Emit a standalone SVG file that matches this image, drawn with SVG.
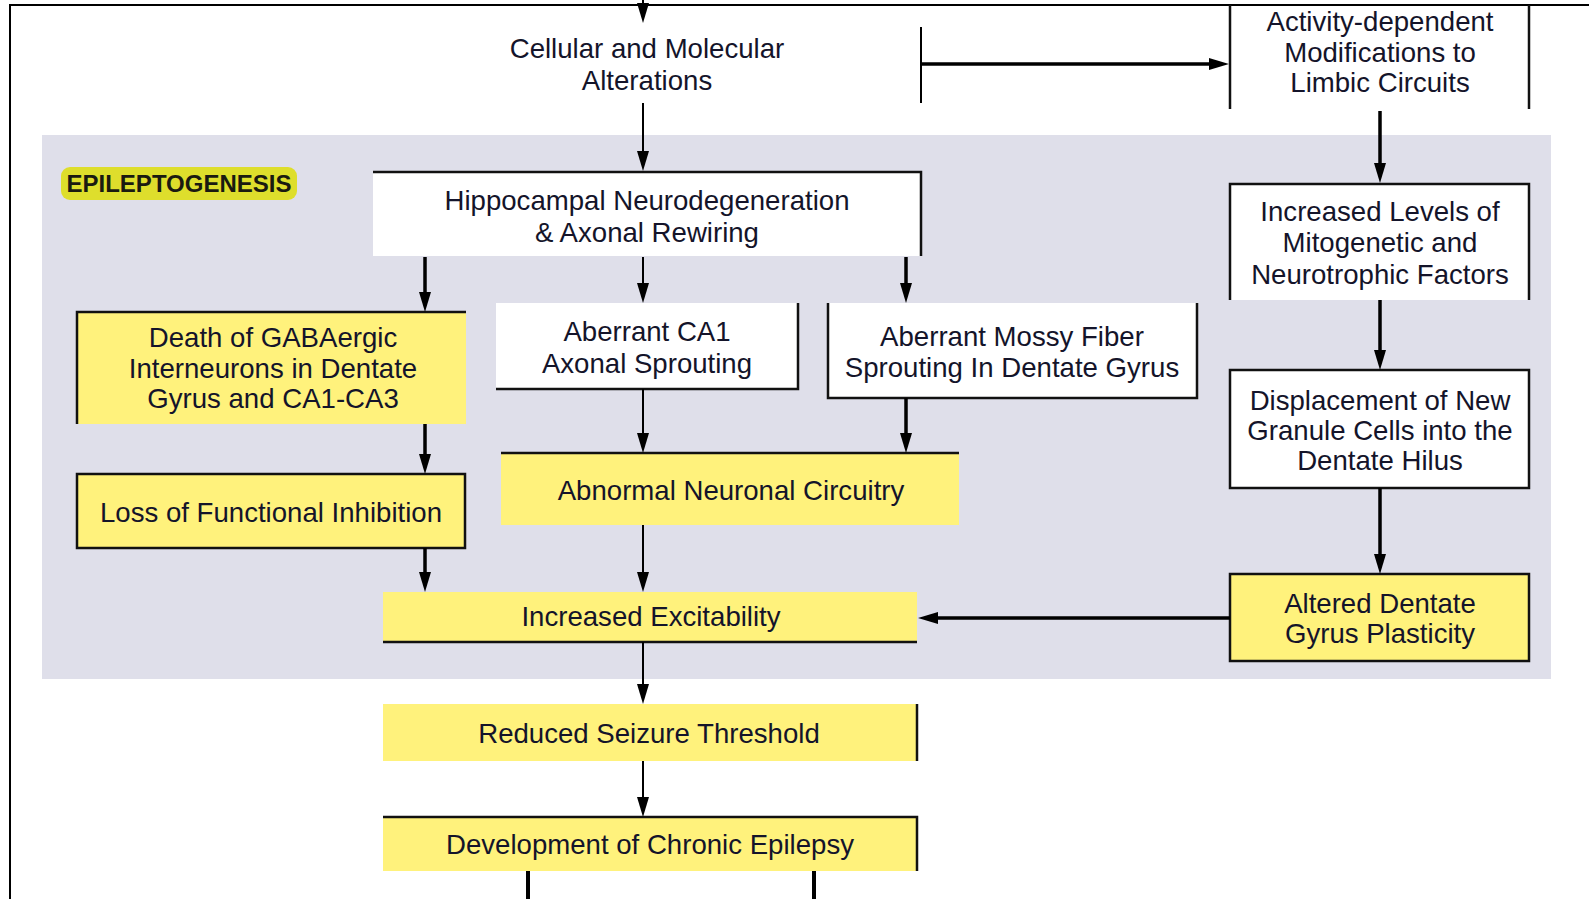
<svg xmlns="http://www.w3.org/2000/svg" width="1589" height="899" viewBox="0 0 1589 899">
<style>
.t{font-family:"Liberation Sans",Arial,sans-serif;font-size:27.6px;fill:#14142a;text-anchor:middle}
.lbl{font-family:"Liberation Sans",Arial,sans-serif;font-size:24px;font-weight:bold;fill:#1a1a10;text-anchor:middle}
.y{fill:#fff27c}
.w{fill:#ffffff}
.b{fill:none;stroke:#111;stroke-width:2.5}
.thin{fill:none;stroke:#000;stroke-width:2;marker-end:url(#ah)}
.thick{fill:none;stroke:#000;stroke-width:3.5;marker-end:url(#ah)}
.ln{fill:none;stroke:#000}
</style>
<defs>
<marker id="ah" markerUnits="userSpaceOnUse" viewBox="0 0 20 14" refX="10" refY="7" markerWidth="20" markerHeight="14" orient="auto">
<path d="M0,1 L20,7 L0,13 z" fill="#000"/>
</marker>
</defs>
<rect x="0" y="0" width="1589" height="899" fill="#fff"/>
<g id="frame">
<path class="ln" d="M9,5 H1589 M10,5 V899" stroke-width="2"/>
</g>
<rect id="epileptogenesis-region" x="42" y="135" width="1509" height="544" fill="#dfdfea"/>
<g id="epileptogenesis-label">
<rect x="61" y="167" width="236" height="33" rx="9" fill="#dede2c"/>
<text class="lbl" x="179" y="192">EPILEPTOGENESIS</text>
</g>
<g id="cellular">
<text class="t" x="647" y="58">Cellular and Molecular</text>
<text class="t" x="647" y="90">Alterations</text>
</g>
<g id="activity">
<path class="b" d="M1230,5 V109 M1529,5 V109"/>
<text class="t" x="1380" y="31">Activity-dependent</text>
<text class="t" x="1380" y="62">Modifications to</text>
<text class="t" x="1380" y="92">Limbic Circuits</text>
</g>
<g id="hippocampal">
<rect class="w" x="373" y="172" width="548" height="84"/>
<path class="b" d="M373,172 H921 V256"/>
<text class="t" x="647" y="210">Hippocampal Neurodegeneration</text>
<text class="t" x="647" y="242">&amp; Axonal Rewiring</text>
</g>
<g id="levels">
<rect class="w" x="1230" y="184" width="299" height="116"/>
<path class="b" d="M1230,300 V184 H1529 V300"/>
<text class="t" x="1380" y="221">Increased Levels of</text>
<text class="t" x="1380" y="252">Mitogenetic and</text>
<text class="t" x="1380" y="284">Neurotrophic Factors</text>
</g>
<g id="death">
<rect class="y" x="77" y="312" width="389" height="112"/>
<path class="b" d="M77,424 V312 H466"/>
<text class="t" x="273" y="347">Death of GABAergic</text>
<text class="t" x="273" y="378">Interneurons in Dentate</text>
<text class="t" x="273" y="408">Gyrus and CA1-CA3</text>
</g>
<g id="ca1">
<rect class="w" x="496" y="303" width="302" height="86"/>
<path class="b" d="M798,303 V389 H496"/>
<text class="t" x="647" y="341">Aberrant CA1</text>
<text class="t" x="647" y="373">Axonal Sprouting</text>
</g>
<g id="mossy">
<rect class="w" x="828" y="303" width="369" height="95"/>
<path class="b" d="M828,303 V398 H1197 V303"/>
<text class="t" x="1012" y="346">Aberrant Mossy Fiber</text>
<text class="t" x="1012" y="377">Sprouting In Dentate Gyrus</text>
</g>
<g id="displacement">
<rect class="w" x="1230" y="370" width="299" height="118"/>
<rect class="b" x="1230" y="370" width="299" height="118"/>
<text class="t" x="1380" y="410">Displacement of New</text>
<text class="t" x="1380" y="440">Granule Cells into the</text>
<text class="t" x="1380" y="470">Dentate Hilus</text>
</g>
<g id="abnormal">
<rect class="y" x="501" y="453" width="458" height="72"/>
<path class="b" d="M501,453 H959"/>
<text class="t" x="731" y="500">Abnormal Neuronal Circuitry</text>
</g>
<g id="loss">
<rect class="y" x="77" y="474" width="388" height="74"/>
<rect class="b" x="77" y="474" width="388" height="74"/>
<text class="t" x="271" y="522">Loss of Functional Inhibition</text>
</g>
<g id="altered">
<rect class="y" x="1230" y="574" width="299" height="87"/>
<rect class="b" x="1230" y="574" width="299" height="87"/>
<text class="t" x="1380" y="613">Altered Dentate</text>
<text class="t" x="1380" y="643">Gyrus Plasticity</text>
</g>
<g id="excitability">
<rect class="y" x="383" y="592" width="534" height="50"/>
<path class="b" d="M383,642 H917"/>
<text class="t" x="651" y="626">Increased Excitability</text>
</g>
<g id="reduced">
<rect class="y" x="383" y="704" width="534" height="57"/>
<path class="b" d="M917,704 V761"/>
<text class="t" x="649" y="743">Reduced Seizure Threshold</text>
</g>
<g id="development">
<rect class="y" x="383" y="817" width="534" height="54"/>
<path class="b" d="M383,817 H917 V871"/>
<text class="t" x="650" y="854">Development of Chronic Epilepsy</text>
</g>
<g id="connectors">
<path class="thin" d="M643,0 V13"/>
<path class="thin" d="M643,103 V161"/>
<path class="thick" d="M425,257 V302"/>
<path class="thin" d="M643,257 V293"/>
<path class="thick" d="M906,257 V293"/>
<path class="thick" d="M1380,111 V173"/>
<path class="thick" d="M1380,300 V360"/>
<path class="thick" d="M1380,488 V564"/>
<path class="thick" d="M425,424 V464"/>
<path class="thin" d="M643,389 V443" stroke-width="2.5"/>
<path class="thick" d="M906,398 V443"/>
<path class="thick" d="M425,548 V582"/>
<path class="thin" d="M643,525 V582"/>
<path class="thick" d="M1230,618 H928" stroke-width="4"/>
<path class="thin" d="M643,642 V694"/>
<path class="thin" d="M643,761 V807"/>
<path class="ln" d="M921,27 V103" stroke-width="2"/>
<path class="thick" d="M921,64 H1219" stroke-width="4"/>
<path class="ln" d="M528,871 V899 M814,871 V899" stroke-width="4"/>
</g>
</svg>
